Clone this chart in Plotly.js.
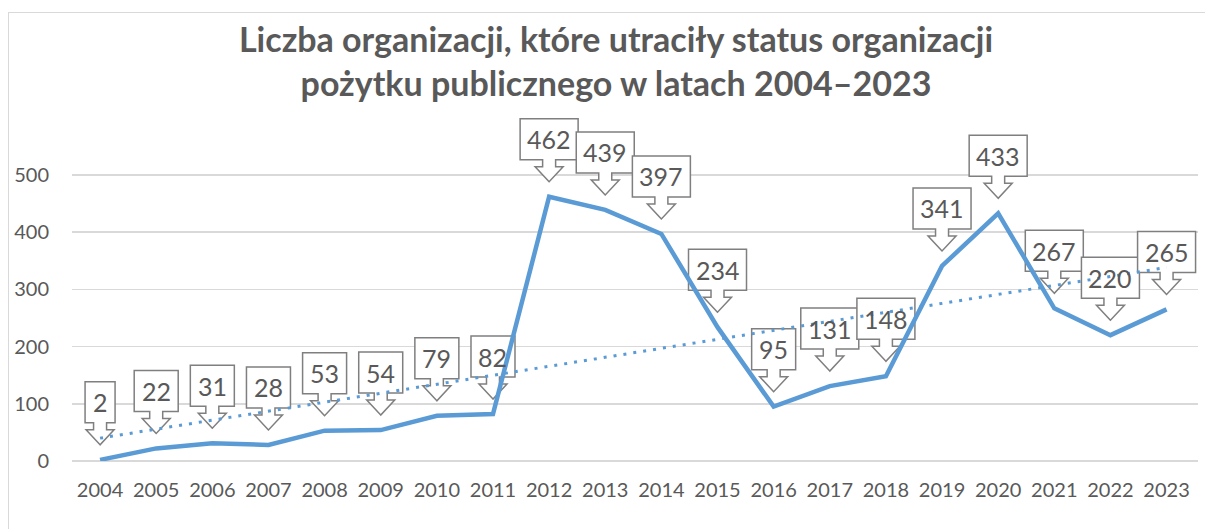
<!DOCTYPE html>
<html><head><meta charset="utf-8">
<script src="https://cdn.plot.ly/plotly-3.0.1.min.js"></script>
<style>
html,body{margin:0;padding:0;background:#fff;overflow:hidden;}
#chart{width:1205px;height:529px;}
#frame{position:absolute;left:8px;top:12px;width:1230px;height:560px;border-left:1.5px solid #d9d9d9;border-top:1.5px solid #d9d9d9;pointer-events:none;}
</style>
</head><body>
<div id="chart"></div><div id="frame"></div>
<script>
// ---- data ----
const years = [2004,2005,2006,2007,2008,2009,2010,2011,2012,2013,2014,2015,2016,2017,2018,2019,2020,2021,2022,2023];
const values = [2,22,31,28,53,54,79,82,462,439,397,234,95,131,148,341,433,267,220,265];
const labels = values.map(String);
const yTicks = [0,100,200,300,400,500];
const yearLabels = years.map(String);
const titleLines = ["Liczba organizacji, które utraciły status organizacji","pożytku publicznego w latach 2004–2023"];

// ---- linear trend (least squares, as Excel's linear trendline) ----
const n = values.length;
const idx = years.map((_, i) => i);
const mx = idx.reduce((a, b) => a + b, 0) / n;
const my = values.reduce((a, b) => a + b, 0) / n;
let sxy = 0, sxx = 0;
idx.forEach((x, i) => { sxy += (x - mx) * (values[i] - my); sxx += (x - mx) * (x - mx); });
const slope = sxy / sxx, intercept = my - slope * mx;
const trend = idx.map(x => intercept + slope * x);

// ---- geometry ----
const W = 1205, H = 529;
const mL = 72, mR = 7, mT = 110, mB = 68;
const plotH = H - mT - mB;
const px500 = 286;                 // pixel height of 0..500
const yMax = 500 * plotH / px500;

const FONT = 'Lato, "Open Sans", "DejaVu Sans", sans-serif';
const GRAY = '#595959';
const BLUE = '#5B9BD5';

// callout (down-arrow box) in pixels relative to the data point, y up
const tipOff = 15, headH = 15, stemH = 7, boxH = 41, headHW = 14, stemHW = 6.5;
function calloutPath(hw) {
  const a = tipOff, b = tipOff + headH, c = b + stemH, d = c + boxH;
  return `M0,${a} L${-headHW},${b} L${-stemHW},${b} L${-stemHW},${c} L${-hw},${c} L${-hw},${d} ` +
         `L${hw},${d} L${hw},${c} L${stemHW},${c} L${stemHW},${b} L${headHW},${b} Z`;
}
const shapes = years.map((yr, i) => ({
  type: 'path', xref: 'x', yref: 'y', xsizemode: 'pixel', ysizemode: 'pixel',
  xanchor: yr, yanchor: values[i],
  path: calloutPath(8 + 7 * labels[i].length),
  fillcolor: '#ffffff', line: {color: '#7f7f7f', width: 1.5}, layer: 'between'
}));
const annotations = years.map((yr, i) => ({
  x: yr, y: values[i], xref: 'x', yref: 'y', text: labels[i], showarrow: false,
  xanchor: 'center', yanchor: 'middle', yshift: tipOff + headH + stemH + boxH / 2,
  font: {family: FONT, size: 25, color: GRAY}
}));

const traces = [
  {x: years, y: values, type: 'scatter', mode: 'lines', line: {color: BLUE, width: 4.5}, hoverinfo: 'skip'},
  {x: years, y: trend, type: 'scatter', mode: 'lines', line: {color: BLUE, width: 3, dash: '3px,7px'}, hoverinfo: 'skip'}
];

const layout = {
  width: W, height: H,
  margin: {l: mL, r: mR, t: mT, b: mB, pad: 0},
  paper_bgcolor: '#ffffff', plot_bgcolor: '#ffffff',
  showlegend: false,
  title: {
    text: `<b>${titleLines[0]}<br>${titleLines[1]}</b>`,
    font: {family: FONT, size: 34, color: GRAY},
    xref: 'container', yref: 'container', x: 616 / W, xanchor: 'center',
    y: 1 - 52 / H, yanchor: 'top'
  },
  xaxis: {
    type: 'linear', range: [2003.5, 2023.56], tickvals: years, ticktext: yearLabels,
    showgrid: false, zeroline: false, showline: false, ticks: '',
    tickfont: {family: FONT, size: 20, color: GRAY}, ticklabelstandoff: 15, fixedrange: true
  },
  yaxis: {
    range: [0, yMax], tickvals: yTicks, ticktext: yTicks.map(String),
    showgrid: true, gridcolor: '#d9d9d9', gridwidth: 1.5,
    zeroline: true, zerolinecolor: '#d9d9d9', zerolinewidth: 1.5, showline: false, ticks: '',
    tickfont: {family: FONT, size: 20, color: GRAY}, ticklabelstandoff: 22, fixedrange: true
  },
  shapes: shapes,
  annotations: annotations
};

Plotly.newPlot('chart', traces, layout, {displayModeBar: false, staticPlot: true});
</script>
</body></html>
